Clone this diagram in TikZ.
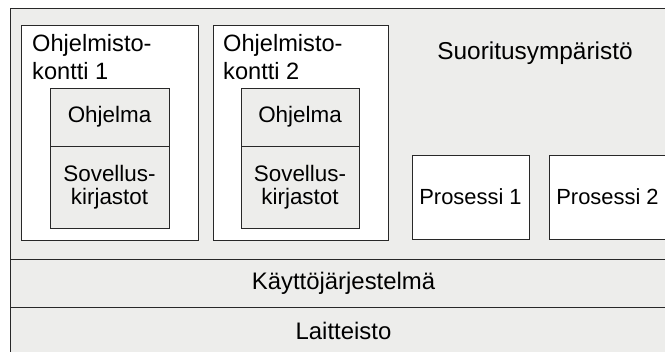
\documentclass[tikz,border=0pt]{standalone}
\usepackage{fontspec}
\setmainfont{Liberation Sans}
\begin{document}
\definecolor{panel}{RGB}{237,237,235}
\definecolor{edge}{RGB}{40,40,40}
\begin{tikzpicture}[x=1bp,y=-1bp,
  every node/.style={text=black},
  big/.style={font=\fontsize{24}{28}\selectfont},
  small/.style={font=\fontsize{22.5}{23.5}\selectfont},
  layer/.style={draw=edge, line width=1bp, fill=panel, inner sep=0pt, big},
  container/.style={draw=edge, line width=1bp, fill=white, inner sep=0pt},
  part/.style={draw=edge, line width=1bp, fill=panel, inner sep=0pt, align=center, small},
  process/.style={draw=edge, line width=1bp, fill=white, inner sep=0pt, font=\fontsize{22}{24}\selectfont},
  caption/.style={inner sep=0pt, align=left, font=\fontsize{23.7}{28}\selectfont}]
  \useasboundingbox (0,0) rectangle (665,351);

  % execution environment and the layers beneath it
  \node[layer, minimum width=665bp, minimum height=347bp] (env) at (343.5,181.5) {};
  \node[layer, minimum width=665bp, minimum height=48bp] (os) at (343.5,283.5) {Käyttöjärjestelmä};
  \node[layer, minimum width=665bp, minimum height=48bp] (hw) at (343.5,331) {Laitteisto};
  \node[inner sep=0pt, font=\fontsize{24.5}{28}\selectfont] (envt) at (535,53) {Suoritusympäristö};

  % software container 1
  \node[container, minimum width=176bp, minimum height=215bp] (c1) at (110,132.5) {};
  \node[caption, anchor=north west] (c1t) at (32,34) {Ohjelmisto-\\kontti 1};
  \node[part, minimum width=119bp, minimum height=58bp] (app1) at (109.5,117) {Ohjelma};
  \node[part, minimum width=119bp, minimum height=82bp] (lib1) at (109.5,187) {Sovellus-\\kirjastot};

  % software container 2
  \node[container, minimum width=175bp, minimum height=215bp] (c2) at (300.5,132.5) {};
  \node[caption, anchor=north west] (c2t) at (223,34) {Ohjelmisto-\\kontti 2};
  \node[part, minimum width=118bp, minimum height=58bp] (app2) at (300,117) {Ohjelma};
  \node[part, minimum width=118bp, minimum height=82bp] (lib2) at (300,187) {Sovellus-\\kirjastot};

  % processes
  \node[process, minimum width=117bp, minimum height=84bp] (p1) at (470.5,197) {Prosessi 1};
  \node[process, minimum width=117bp, minimum height=84bp] (p2) at (607.5,197) {Prosessi 2};
\end{tikzpicture}
\end{document}
